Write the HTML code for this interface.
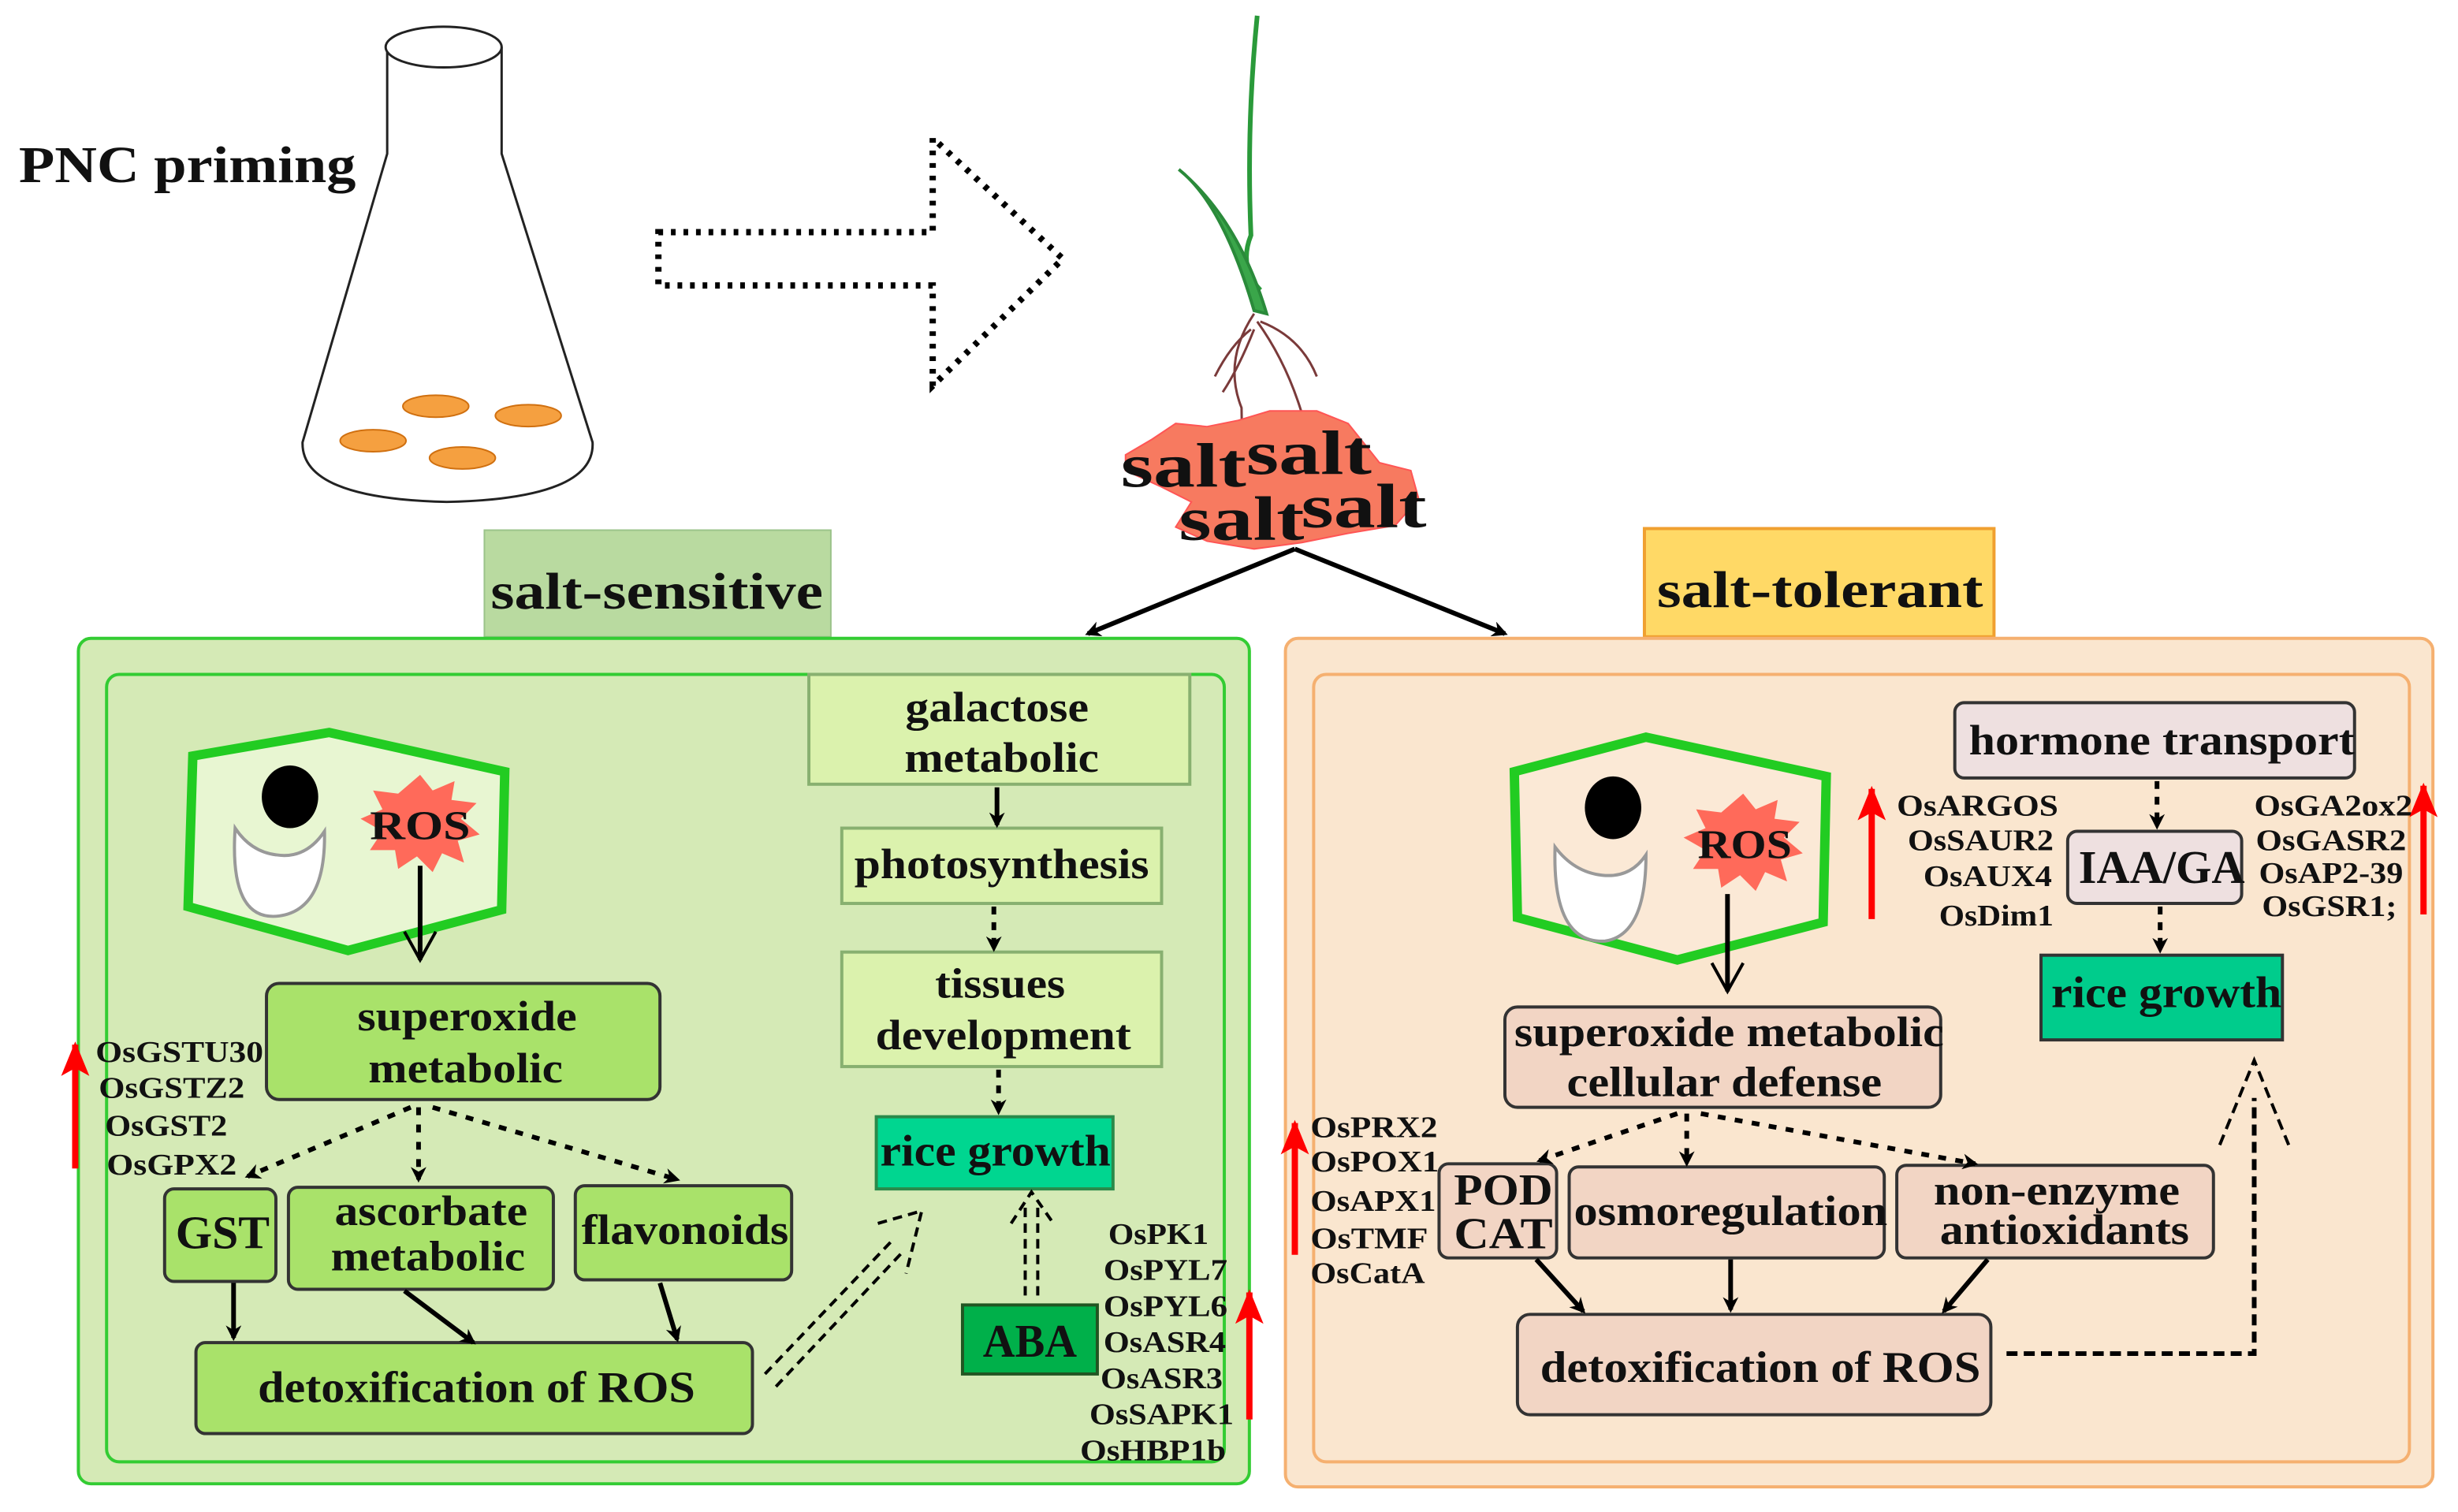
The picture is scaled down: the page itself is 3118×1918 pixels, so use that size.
<!DOCTYPE html>
<html><head><meta charset="utf-8"><style>
html,body{margin:0;padding:0;background:#fff}
svg{display:block}
text{font-family:"Liberation Serif",serif;font-weight:bold;fill:#111}
</style></head><body>
<svg width="3118" height="1918" viewBox="0 0 1568 964" preserveAspectRatio="none" xmlns="http://www.w3.org/2000/svg">
<defs>
<marker id="ah" markerWidth="10" markerHeight="10" refX="8" refY="5" orient="auto" markerUnits="userSpaceOnUse"><path d="M0,0 L10,5 L0,10 L3,5 Z" fill="#000"/></marker>
<marker id="oh" markerWidth="24" markerHeight="24" refX="20" refY="12" orient="auto" markerUnits="userSpaceOnUse"><path d="M2,2 L20,12 L2,22" fill="none" stroke="#000" stroke-width="2"/></marker>
<marker id="ra" markerWidth="22" markerHeight="22" refX="20" refY="11" orient="auto" markerUnits="userSpaceOnUse"><path d="M0,2 L22,11 L0,20 L5,11 Z" fill="#f00"/></marker>
</defs>

<!-- flask -->
<text x="12" y="116" font-size="33" textLength="215" lengthAdjust="spacingAndGlyphs">PNC priming</text>
<path d="M247,30 L247,98 L193,282 Q192,318 285,320 Q380,318 378,282 L320,98 L320,30" fill="#fff" stroke="#222" stroke-width="1.5"/>
<ellipse cx="283" cy="30" rx="37" ry="13" fill="#fff" stroke="#222" stroke-width="1.5"/>
<g fill="#f5a040" stroke="#d07010" stroke-width="1">
<ellipse cx="278" cy="259" rx="21" ry="7"/><ellipse cx="337" cy="265" rx="21" ry="7"/><ellipse cx="238" cy="281" rx="21" ry="7"/><ellipse cx="295" cy="292" rx="21" ry="7"/></g>

<!-- dotted arrow -->
<path d="M420,148 L595,148 L595,88 L678,165 L595,246 L595,182 L420,182 Z" fill="none" stroke="#000" stroke-width="4" stroke-dasharray="3,5"/>

<!-- plant -->
<path d="M802,10 Q795,80 798,150 Q790,170 804,185" fill="none" stroke="#2a9a3a" stroke-width="3"/>
<path d="M752,108 Q780,130 800,198 L808,200 Q790,140 752,108Z" fill="#3aa64a" stroke="#2a8a3a" stroke-width="2"/>
<g fill="none" stroke="#7a3a3a" stroke-width="1.5">
<path d="M800,200 Q780,230 792,260 L793,320"/><path d="M798,210 Q785,220 775,240"/><path d="M802,205 Q820,230 830,262"/><path d="M804,205 Q830,215 840,240"/><path d="M800,210 Q790,235 780,250"/></g>

<!-- salt -->
<g fill="#f77a60" stroke="#f55" stroke-width="1">
<path d="M718,290 L735,280 L750,270 L770,272 L790,268 L810,262 L840,262 L860,270 L872,285 L880,295 L900,300 L905,318 L890,335 L860,340 L830,346 L800,350 L770,345 L750,336 L760,320 L740,310 L718,300Z"/></g>
<text x="715" y="310" font-size="40" textLength="80" lengthAdjust="spacingAndGlyphs">salt</text>
<text x="795" y="302" font-size="40" textLength="80" lengthAdjust="spacingAndGlyphs">salt</text>
<text x="752" y="344" font-size="40" textLength="80" lengthAdjust="spacingAndGlyphs">salt</text>
<text x="830" y="336" font-size="40" textLength="80" lengthAdjust="spacingAndGlyphs">salt</text>
<line x1="826" y1="350" x2="694" y2="404" stroke="#000" stroke-width="3" marker-end="url(#ah)"/>
<line x1="826" y1="350" x2="960" y2="404" stroke="#000" stroke-width="3" marker-end="url(#ah)"/>

<!-- LEFT PANEL -->
<rect x="309" y="338" width="221" height="68" fill="#b9daa0" stroke="#9bc38a"/>
<text x="419" y="388" font-size="33" text-anchor="middle" textLength="212" lengthAdjust="spacingAndGlyphs">salt-sensitive</text>
<rect x="50" y="407" width="747" height="539" rx="8" fill="#d5eab6" stroke="#33cc33" stroke-width="2"/>
<rect x="68" y="430" width="713" height="502" rx="8" fill="none" stroke="#33cc33" stroke-width="2"/>

<polygon points="123,482 210,467 322,492 320,580 222,606 120,578" fill="#e8f6d2" stroke="#22cc22" stroke-width="6"/>
<ellipse cx="185" cy="508" rx="18" ry="20" fill="#000"/>
<path d="M150,528 Q146,588 178,584 Q208,580 207,530 Q195,548 176,545 Q160,543 150,528Z" fill="#fff" stroke="#999" stroke-width="2"/>
<path d="M268,494 L276,504 L290,498 L288,510 L304,512 L294,522 L306,532 L292,536 L296,550 L282,544 L276,556 L266,546 L254,554 L252,542 L236,542 L244,530 L230,522 L244,516 L238,504 L254,506 Z" fill="#ff6a5a"/>
<text x="268" y="535" font-size="26" text-anchor="middle" textLength="64" lengthAdjust="spacingAndGlyphs">ROS</text>
<line x1="268" y1="552" x2="268" y2="612" stroke="#000" stroke-width="3" marker-end="url(#oh)"/>

<rect x="170" y="627" width="251" height="74" rx="8" fill="#a9e26a" stroke="#333" stroke-width="2"/>
<text x="298" y="657" font-size="27" text-anchor="middle" textLength="140" lengthAdjust="spacingAndGlyphs">superoxide</text>
<text x="297" y="690" font-size="27" text-anchor="middle" textLength="124" lengthAdjust="spacingAndGlyphs">metabolic</text>
<rect x="105" y="758" width="71" height="59" rx="6" fill="#a9e26a" stroke="#333" stroke-width="2"/>
<text x="142" y="796" font-size="30" text-anchor="middle" textLength="60" lengthAdjust="spacingAndGlyphs">GST</text>
<rect x="184" y="757" width="169" height="65" rx="6" fill="#a9e26a" stroke="#333" stroke-width="2"/>
<text x="275" y="781" font-size="27" text-anchor="middle" textLength="123" lengthAdjust="spacingAndGlyphs">ascorbate</text>
<text x="273" y="810" font-size="27" text-anchor="middle" textLength="124" lengthAdjust="spacingAndGlyphs">metabolic</text>
<rect x="367" y="756" width="138" height="60" rx="6" fill="#a9e26a" stroke="#333" stroke-width="2"/>
<text x="437" y="793" font-size="27" text-anchor="middle" textLength="132" lengthAdjust="spacingAndGlyphs">flavonoids</text>
<rect x="125" y="856" width="355" height="58" rx="6" fill="#a9e26a" stroke="#333" stroke-width="2"/>
<text x="304" y="894" font-size="28" text-anchor="middle" textLength="279" lengthAdjust="spacingAndGlyphs">detoxification of ROS</text>

<g stroke="#000" stroke-width="3" fill="none" stroke-dasharray="5,6">
<line x1="262" y1="706" x2="158" y2="750" marker-end="url(#ah)"/>
<line x1="267" y1="706" x2="267" y2="752" marker-end="url(#ah)"/>
<line x1="276" y1="706" x2="432" y2="752" marker-end="url(#ah)"/>
</g>
<g stroke="#000" stroke-width="3">
<line x1="149" y1="818" x2="149" y2="853" marker-end="url(#ah)"/>
<line x1="258" y1="823" x2="302" y2="856" marker-end="url(#ah)"/>
<line x1="421" y1="818" x2="432" y2="854" marker-end="url(#ah)"/>
</g>

<rect x="516" y="430" width="243" height="70" fill="#dbf2ad" stroke="#88b070" stroke-width="2"/>
<text x="636" y="460" font-size="27" text-anchor="middle" textLength="117" lengthAdjust="spacingAndGlyphs">galactose</text>
<text x="639" y="492" font-size="27" text-anchor="middle" textLength="124" lengthAdjust="spacingAndGlyphs">metabolic</text>
<rect x="537" y="528" width="204" height="48" fill="#dbf2ad" stroke="#88b070" stroke-width="2"/>
<text x="639" y="560" font-size="27" text-anchor="middle" textLength="188" lengthAdjust="spacingAndGlyphs">photosynthesis</text>
<rect x="537" y="607" width="204" height="73" fill="#dbf2ad" stroke="#88b070" stroke-width="2"/>
<text x="638" y="636" font-size="27" text-anchor="middle" textLength="83" lengthAdjust="spacingAndGlyphs">tissues</text>
<text x="640" y="669" font-size="27" text-anchor="middle" textLength="163" lengthAdjust="spacingAndGlyphs">development</text>
<rect x="559" y="712" width="151" height="46" fill="#00d690" stroke="#2a8a4a" stroke-width="2"/>
<text x="635" y="743" font-size="28" text-anchor="middle" textLength="147" lengthAdjust="spacingAndGlyphs">rice growth</text>
<rect x="614" y="832" width="86" height="44" fill="#00b04a" stroke="#225522" stroke-width="2"/>
<text x="657" y="865" font-size="30" text-anchor="middle" textLength="60" lengthAdjust="spacingAndGlyphs">ABA</text>
<g stroke="#000" stroke-width="3">
<line x1="636" y1="502" x2="636" y2="526" marker-end="url(#ah)"/>
<line x1="634" y1="578" x2="634" y2="605" stroke-dasharray="5,5" marker-end="url(#ah)"/>
<line x1="637" y1="682" x2="637" y2="709" stroke-dasharray="5,5" marker-end="url(#ah)"/>
</g>
<g fill="none" stroke="#000" stroke-width="2" stroke-dasharray="6,4">
<path d="M488,876 L570,790 M495,884 L576,798 M560,780 L588,772 L578,812"/>
<path d="M654,826 L654,770 M662,826 L662,770 M645,780 L658,760 L672,780"/>
</g>

<g font-size="19">
<text x="61" y="677" textLength="107" lengthAdjust="spacingAndGlyphs">OsGSTU30</text>
<text x="63" y="700" textLength="93" lengthAdjust="spacingAndGlyphs">OsGSTZ2</text>
<text x="67" y="724" textLength="78" lengthAdjust="spacingAndGlyphs">OsGST2</text>
<text x="68" y="749" textLength="83" lengthAdjust="spacingAndGlyphs">OsGPX2</text>
<text x="707" y="793" textLength="64" lengthAdjust="spacingAndGlyphs">OsPK1</text>
<text x="704" y="816" textLength="79" lengthAdjust="spacingAndGlyphs">OsPYL7</text>
<text x="704" y="839" textLength="79" lengthAdjust="spacingAndGlyphs">OsPYL6</text>
<text x="704" y="862" textLength="78" lengthAdjust="spacingAndGlyphs">OsASR4</text>
<text x="702" y="885" textLength="78" lengthAdjust="spacingAndGlyphs">OsASR3</text>
<text x="695" y="908" textLength="92" lengthAdjust="spacingAndGlyphs">OsSAPK1</text>
<text x="689" y="931" textLength="93" lengthAdjust="spacingAndGlyphs">OsHBP1b</text>
</g>
<line x1="48" y1="745" x2="48" y2="666" stroke="#f00" stroke-width="4" marker-end="url(#ra)"/>
<line x1="797" y1="905" x2="797" y2="824" stroke="#f00" stroke-width="4" marker-end="url(#ra)"/>

<!-- RIGHT PANEL -->
<rect x="1049" y="337" width="223" height="69" fill="#ffd966" stroke="#f0a030" stroke-width="2"/>
<text x="1161" y="387" font-size="33" text-anchor="middle" textLength="208" lengthAdjust="spacingAndGlyphs">salt-tolerant</text>
<rect x="820" y="407" width="732" height="541" rx="8" fill="#fae6cf" stroke="#f5b070" stroke-width="2"/>
<rect x="838" y="430" width="699" height="502" rx="8" fill="none" stroke="#f5b070" stroke-width="2"/>

<polygon points="966,492 1050,470 1165,495 1163,588 1070,612 968,585" fill="#fbe9d6" stroke="#22cc22" stroke-width="6"/>
<ellipse cx="1029" cy="515" rx="18" ry="20" fill="#000"/>
<path d="M992,540 Q990,602 1024,600 Q1050,596 1050,545 Q1040,560 1022,558 Q1004,556 992,540Z" fill="#fff" stroke="#999" stroke-width="2"/>
<path d="M1112,506 L1120,516 L1134,510 L1132,522 L1148,524 L1138,534 L1150,544 L1136,548 L1140,562 L1126,556 L1120,568 L1110,558 L1098,566 L1096,554 L1080,554 L1088,542 L1074,534 L1088,528 L1082,516 L1098,518 Z" fill="#ff6a5a"/>
<text x="1113" y="547" font-size="26" text-anchor="middle" textLength="60" lengthAdjust="spacingAndGlyphs">ROS</text>
<line x1="1102" y1="570" x2="1102" y2="632" stroke="#000" stroke-width="3" marker-end="url(#oh)"/>

<rect x="960" y="642" width="278" height="64" rx="8" fill="#f2d5c4" stroke="#333" stroke-width="2"/>
<text x="1103" y="667" font-size="27" text-anchor="middle" textLength="274" lengthAdjust="spacingAndGlyphs">superoxide metabolic</text>
<text x="1100" y="699" font-size="27" text-anchor="middle" textLength="201" lengthAdjust="spacingAndGlyphs">cellular defense</text>
<rect x="918" y="742" width="75" height="60" rx="6" fill="#f2d5c4" stroke="#333" stroke-width="2"/>
<text x="959" y="768" font-size="28" text-anchor="middle" textLength="63" lengthAdjust="spacingAndGlyphs">POD</text>
<text x="959" y="796" font-size="28" text-anchor="middle" textLength="63" lengthAdjust="spacingAndGlyphs">CAT</text>
<rect x="1001" y="744" width="201" height="58" rx="6" fill="#f2d5c4" stroke="#333" stroke-width="2"/>
<text x="1104" y="781" font-size="27" text-anchor="middle" textLength="200" lengthAdjust="spacingAndGlyphs">osmoregulation</text>
<rect x="1210" y="743" width="202" height="59" rx="6" fill="#f2d5c4" stroke="#333" stroke-width="2"/>
<text x="1312" y="768" font-size="27" text-anchor="middle" textLength="157" lengthAdjust="spacingAndGlyphs">non-enzyme</text>
<text x="1317" y="793" font-size="27" text-anchor="middle" textLength="159" lengthAdjust="spacingAndGlyphs">antioxidants</text>
<rect x="968" y="838" width="302" height="64" rx="8" fill="#f2d5c4" stroke="#333" stroke-width="2"/>
<text x="1123" y="881" font-size="28" text-anchor="middle" textLength="281" lengthAdjust="spacingAndGlyphs">detoxification of ROS</text>
<g stroke="#000" stroke-width="3" fill="none" stroke-dasharray="5,6">
<line x1="1070" y1="710" x2="982" y2="740" marker-end="url(#ah)"/>
<line x1="1076" y1="710" x2="1076" y2="742" marker-end="url(#ah)"/>
<line x1="1085" y1="710" x2="1260" y2="742" marker-end="url(#ah)"/>
</g>
<g stroke="#000" stroke-width="3">
<line x1="980" y1="803" x2="1010" y2="836" marker-end="url(#ah)"/>
<line x1="1104" y1="803" x2="1104" y2="835" marker-end="url(#ah)"/>
<line x1="1268" y1="803" x2="1240" y2="836" marker-end="url(#ah)"/>
</g>
<g fill="none" stroke="#000" stroke-width="3" stroke-dasharray="7,4">
<path d="M1280,863 L1438,863 L1438,700"/>
<path d="M1416,730 L1438,676 L1460,730" stroke-width="2"/>
</g>

<rect x="1247" y="448" width="255" height="48" rx="6" fill="#eee0e0" stroke="#333" stroke-width="2"/>
<text x="1379" y="481" font-size="27" text-anchor="middle" textLength="246" lengthAdjust="spacingAndGlyphs">hormone transport</text>
<rect x="1319" y="530" width="111" height="46" rx="6" fill="#eee0e0" stroke="#333" stroke-width="2"/>
<text x="1379" y="563" font-size="30" text-anchor="middle" textLength="106" lengthAdjust="spacingAndGlyphs">IAA/GA</text>
<rect x="1302" y="609" width="154" height="54" fill="#00cc8c" stroke="#333" stroke-width="2"/>
<text x="1382" y="642" font-size="28" text-anchor="middle" textLength="147" lengthAdjust="spacingAndGlyphs">rice growth</text>
<g stroke="#000" stroke-width="3" stroke-dasharray="5,5">
<line x1="1376" y1="498" x2="1376" y2="527" marker-end="url(#ah)"/>
<line x1="1378" y1="578" x2="1378" y2="606" marker-end="url(#ah)"/>
</g>

<g font-size="19">
<text x="1210" y="520" textLength="103" lengthAdjust="spacingAndGlyphs">OsARGOS</text>
<text x="1217" y="542" textLength="93" lengthAdjust="spacingAndGlyphs">OsSAUR2</text>
<text x="1227" y="565" textLength="82" lengthAdjust="spacingAndGlyphs">OsAUX4</text>
<text x="1237" y="590" textLength="73" lengthAdjust="spacingAndGlyphs">OsDim1</text>
<text x="1438" y="520" textLength="101" lengthAdjust="spacingAndGlyphs">OsGA2ox2</text>
<text x="1439" y="542" textLength="96" lengthAdjust="spacingAndGlyphs">OsGASR2</text>
<text x="1441" y="563" textLength="92" lengthAdjust="spacingAndGlyphs">OsAP2-39</text>
<text x="1443" y="584" textLength="86" lengthAdjust="spacingAndGlyphs">OsGSR1;</text>
<text x="836" y="725" textLength="81" lengthAdjust="spacingAndGlyphs">OsPRX2</text>
<text x="836" y="747" textLength="82" lengthAdjust="spacingAndGlyphs">OsPOX1</text>
<text x="836" y="772" textLength="80" lengthAdjust="spacingAndGlyphs">OsAPX1</text>
<text x="836" y="796" textLength="75" lengthAdjust="spacingAndGlyphs">OsTMF</text>
<text x="836" y="818" textLength="73" lengthAdjust="spacingAndGlyphs">OsCatA</text>
</g>
<line x1="1194" y1="586" x2="1194" y2="503" stroke="#f00" stroke-width="4" marker-end="url(#ra)"/>
<line x1="1546" y1="583" x2="1546" y2="501" stroke="#f00" stroke-width="4" marker-end="url(#ra)"/>
<line x1="826" y1="800" x2="826" y2="716" stroke="#f00" stroke-width="4" marker-end="url(#ra)"/>
</svg>
</body></html>
